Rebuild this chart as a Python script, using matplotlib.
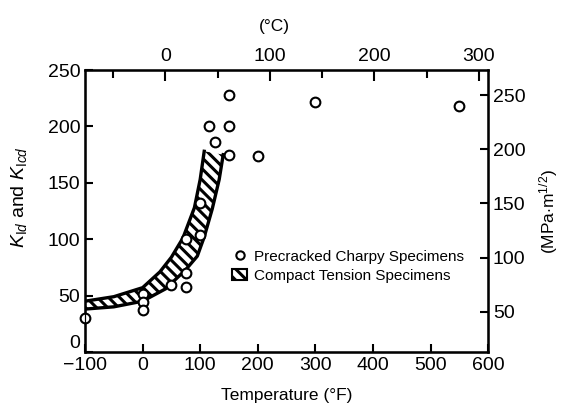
import numpy as np
import matplotlib
matplotlib.use('Agg')
import matplotlib.pyplot as plt
from matplotlib.lines import Line2D
from matplotlib.patches import Patch

plt.rcParams['font.family'] = ['Liberation Sans', 'DejaVu Sans']
plt.rcParams['mathtext.fontset'] = 'custom'
plt.rcParams['mathtext.rm'] = 'Liberation Sans'
plt.rcParams['mathtext.it'] = 'Liberation Sans:italic'
plt.rcParams['hatch.linewidth'] = 2.2

# precracked charpy specimens (deg F, ksi*in^1/2)
charpy_F = [-100, 0, 0, 0, 50, 75, 75, 75, 100, 100, 115, 125, 150, 150, 150, 200, 300, 550]
charpy_K = [30, 51, 44, 37, 59, 70, 58, 100, 104, 132, 200, 186, 200, 228, 175, 174, 222, 218]

# compact tension band, upper and lower edge
band_up_F = [-100, -50, 0, 30, 50, 70, 90, 100, 107]
band_up_K = [45, 49, 57, 71, 84, 101, 128, 153, 178]
band_lo_F = [-100, -50, 0, 40, 75, 95, 107, 121, 133, 140]
band_lo_K = [38, 40, 45, 56, 73, 85, 102, 127, 153, 175]

xticks_F = [-100, 0, 100, 200, 300, 400, 500, 600]
yticks_K = [0, 50, 100, 150, 200, 250]
ticks_C = [0, 100, 200, 300]
minor_C = [-50, 50, 150, 250]
ticks_MPa = [50, 100, 150, 200, 250]

fig = plt.figure(figsize=(5.63, 4.15), dpi=100)
ax = fig.add_axes([0.151, 0.152, 0.716, 0.679])

# hatched band
poly_x = band_up_F + band_lo_F[::-1]
poly_y = band_up_K + band_lo_K[::-1]
ax.fill(poly_x, poly_y, facecolor='white', edgecolor='black', hatch='\\\\\\', linewidth=0, zorder=2)
ax.plot(band_up_F, band_up_K, color='black', lw=2.4, zorder=3)
ax.plot(band_lo_F, band_lo_K, color='black', lw=2.4, zorder=3)

ax.plot(charpy_F, charpy_K, 'o', mfc='white', mec='black', mew=1.5, ms=7, zorder=4, clip_on=False)

ax.set_xlim(-100, 600)
ax.set_ylim(0, 250)
ax.set_xticks(xticks_F)
ax.set_yticks(yticks_K)
ax.tick_params(direction='in', length=6, width=1.5, labelsize=14)
ax.get_yticklabels()[0].set_va('bottom')
ax.set_xlabel('Temperature (°F)', fontsize=12.5, labelpad=10)
ax.set_ylabel(r'$K_{\mathrm{I}d}$ and $K_{\mathrm{I}cd}$', fontsize=14)
ax.yaxis.set_label_coords(-0.14, 0.55)
for s in ax.spines.values():
    s.set_linewidth(1.8)

# celsius on top
axt = ax.twiny()
axt.set_xlim(-77, 309)
axt.set_xticks(ticks_C)
axt.set_xticks(minor_C, minor=True)
axt.tick_params(direction='in', length=8, width=1.5, labelsize=14)
axt.tick_params(which='minor', direction='in', length=6, width=1.5)
axt.set_xlabel('(°C)', fontsize=12.5)
axt.xaxis.set_label_coords(0.469, 1.14)

# MPa on the right
axr = ax.twinx()
axr.set_ylim(13, 273)
axr.set_yticks(ticks_MPa)
axr.tick_params(direction='in', length=6, width=1.5, labelsize=14)
axr.set_ylabel(r'(MPa$\cdot$m$^{1/2}$)', fontsize=12.5, labelpad=8)

handles = [Line2D([], [], ls='none', marker='o', mfc='white', mec='black', mew=1.5, ms=6),
           Patch(facecolor='white', edgecolor='black', hatch='\\\\\\', linewidth=1.5)]
labels = ['Precracked Charpy Specimens', 'Compact Tension Specimens']
ax.legend(handles, labels, loc='upper left', bbox_to_anchor=(0.35, 0.385), frameon=False,
          fontsize=11, handlelength=1.0, handletextpad=0.4, borderaxespad=0, labelspacing=0.35)

fig.savefig('out.png', dpi=100)
